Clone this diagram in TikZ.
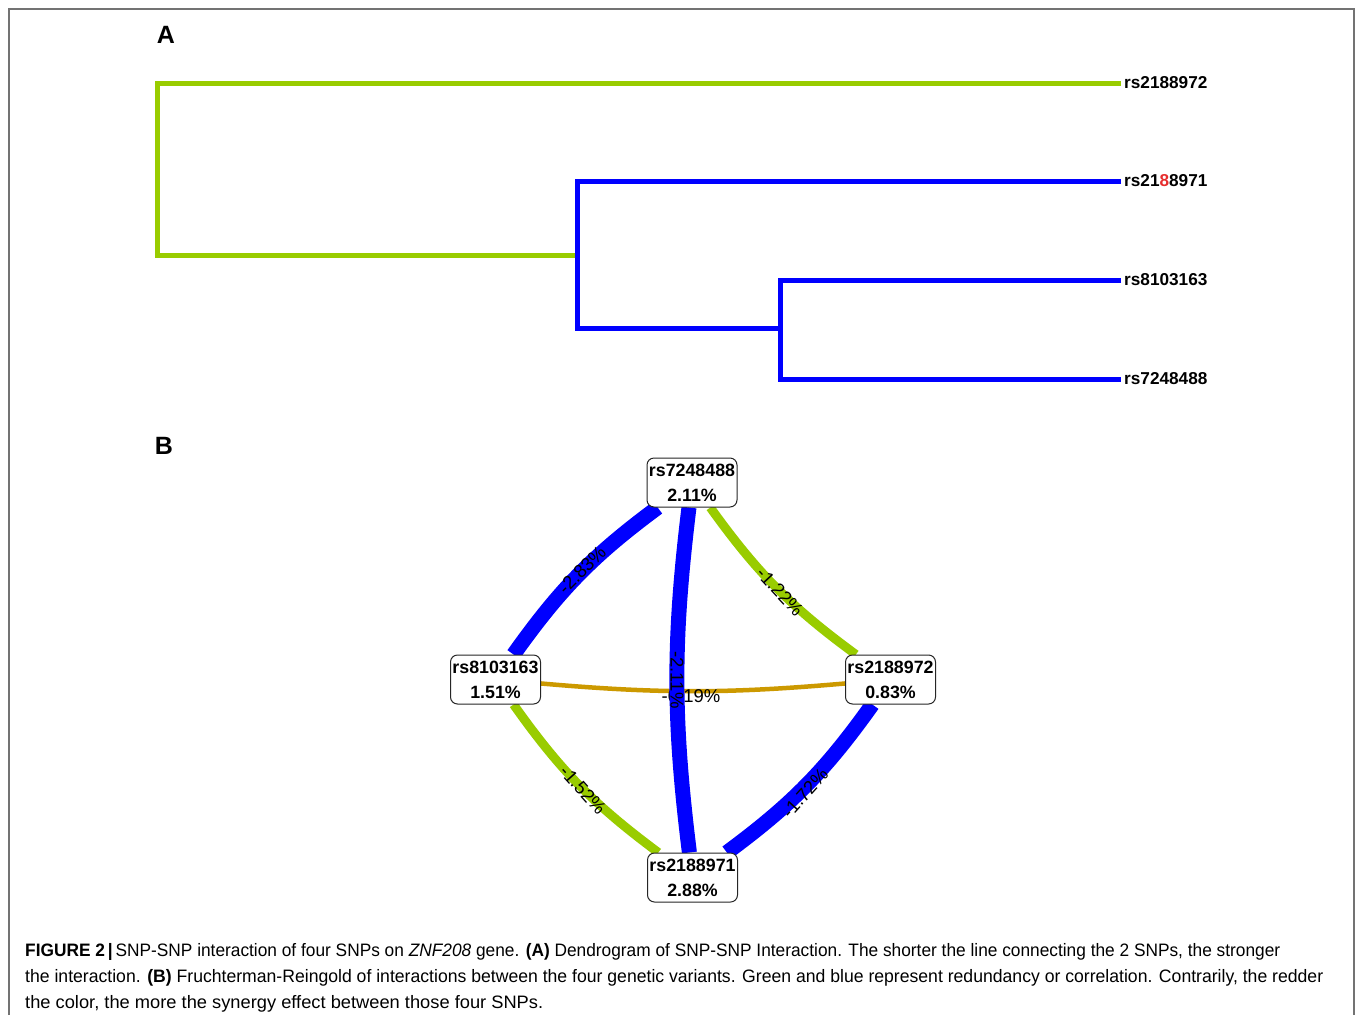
\documentclass[tikz,border=0pt]{standalone}
\usepackage{fontspec}
\setmainfont{Liberation Sans}
\usepackage{graphicx}
\usetikzlibrary{backgrounds}
\definecolor{dgreen}{RGB}{153,204,0}
\definecolor{dblue}{RGB}{0,0,255}
\definecolor{dorange}{RGB}{204,153,0}
\definecolor{dred}{RGB}{230,45,45}
\definecolor{framegray}{RGB}{115,115,115}
\begin{document}
\begin{tikzpicture}[x=1pt,y=1pt,
  framestyle/.style={draw=framegray, line width=1.6pt},
  greenbranch/.style={draw=dgreen, line width=5pt},
  bluebranch/.style={draw=dblue, line width=5pt},
  leaf/.style={anchor=west, inner sep=3pt, font=\fontsize{17.2}{20}\selectfont\bfseries},
  panel/.style={font=\fontsize{25}{28}\selectfont\bfseries, inner sep=0pt},
  snp/.style={draw=black!85, line width=1pt, rounded corners=7pt, fill=white,
    minimum width=90pt, minimum height=49pt, inner sep=1pt, align=center,
    font=\fontsize{17.8}{25}\selectfont\bfseries},
  bluelink/.style={draw=dblue, line width=15pt},
  greenlink/.style={draw=dgreen, line width=9pt},
  orangelink/.style={draw=dorange, line width=4.5pt},
  elabel/.style={font=\fontsize{18.5}{20}\selectfont, inner sep=0pt},
  capline/.style={anchor=base west, inner sep=0pt, font=\fontsize{18}{22}\selectfont}
]
\useasboundingbox (0,0) rectangle (1355,-1015);
\draw[framestyle] (9,-1015) -- (9,-9) -- (1354,-9) -- (1354,-1015);

% Panel labels
\node[panel] (pA) at (166,-35) {A};
\node[panel] (pB) at (164,-446) {B};

% Dendrogram
\node[leaf] (l1) at (1121,-83) {rs2188972};
\node[leaf] (l2) at (1121,-181) {rs21\textcolor{dred}{8}8971};
\node[leaf] (l3) at (1121,-280) {rs8103163};
\node[leaf] (l4) at (1121,-379) {rs7248488};
\coordinate (g1) at (157,-83);
\coordinate (g2) at (157,-255);
\coordinate (b0) at (577,-255);
\coordinate (b1) at (577,-181);
\coordinate (b2) at (577,-328);
\coordinate (c0) at (780,-328);
\coordinate (c1) at (780,-280);
\coordinate (c2) at (780,-379);
\draw[greenbranch] (l1.west) -- (g1) -- (g2) -- (b0);
\draw[bluebranch] (l2.west) -- (b1) -- (b2) -- (c0);
\draw[bluebranch] (l3.west) -- (c1) -- (c2) -- (l4.west);

% Network
\node[snp] (nt) at (692,-482.5) {rs7248488\\2.11\%};
\node[snp] (nl) at (495.5,-679.5) {rs8103163\\1.51\%};
\node[snp] (nr) at (890.5,-679.5) {rs2188972\\0.83\%};
\node[snp] (nb) at (692.5,-877.5) {rs2188971\\2.88\%};

\begin{scope}[on background layer]
  \draw[bluelink] (nt) to[bend right=9] (nl);
  \draw[greenlink] (nt) to[bend right=9] (nr);
  \draw[greenlink] (nl) to[bend right=9] (nb);
  \draw[bluelink] (nb) to[bend right=9] (nr);
  \node[elabel, rotate=45] (e1) at (582,-570) {-2.83\%};
  \node[elabel, rotate=-47] (e2) at (780,-592) {-1.22\%};
  \node[elabel, rotate=-48] (e5) at (583,-790) {-1.52\%};
  \node[elabel, rotate=48] (e6) at (805,-793) {-1.72\%};
  \draw[orangelink] (nl) to[bend right=5] (nr);
  \node[elabel] (e4) at (691,-696) {-0.19\%};
  \draw[bluelink] (nt) to[bend right=7] (nb);
  \node[elabel, rotate=-90] (e3) at (677,-680) {-2.11\%};
\end{scope}

% Caption
\node[capline] (cap1) at (25,-956) {\resizebox{1255pt}{\height}{\textbf{FIGURE 2\,|}\,SNP-SNP interaction of four SNPs on \textit{ZNF208} gene. \textbf{(A)} Dendrogram of SNP-SNP Interaction. The shorter the line connecting the 2 SNPs, the stronger}};
\node[capline] (cap2) at (25,-982) {\resizebox{1298pt}{\height}{the interaction. \textbf{(B)} Fruchterman-Reingold of interactions between the four genetic variants. Green and blue represent redundancy or correlation. Contrarily, the redder}};
\node[capline] (cap3) at (25,-1008) {\resizebox{518pt}{\height}{the color, the more the synergy effect between those four SNPs.}};
\end{tikzpicture}
\end{document}
